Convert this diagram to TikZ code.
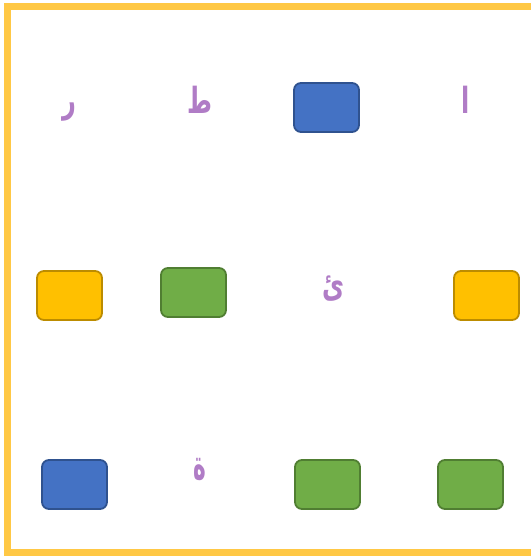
\documentclass[tikz,border=0pt]{standalone}
\usepackage{fontspec}
\newfontfamily\arabicfont[Script=Arabic]{DejaVu Sans}
\TeXXeTstate=1
\definecolor{frameY}{HTML}{FFC845}
\definecolor{bFill}{HTML}{4472C4}
\definecolor{bLine}{HTML}{2F528F}
\definecolor{yFill}{HTML}{FFC000}
\definecolor{yLine}{HTML}{BC8C00}
\definecolor{gFill}{HTML}{70AD47}
\definecolor{gLine}{HTML}{507E32}
\definecolor{letter}{HTML}{B07CC6}
\newcommand{\arl}[1]{\scalebox{1}[1.5]{\arabicfont\bfseries\fontsize{24}{28}\selectfont\beginR #1\endR}}
\begin{document}
\begin{tikzpicture}[x=1pt,y=-1pt,
  card/.style={rounded corners=7pt, line width=1.8pt, minimum width=65pt, minimum height=49pt, inner sep=0pt},
  bluecard/.style={card, fill=bFill, draw=bLine},
  yellowcard/.style={card, fill=yFill, draw=yLine},
  greencard/.style={card, fill=gFill, draw=gLine},
  ltr/.style={text=letter, inner sep=0pt}]
\useasboundingbox (0,0) rectangle (530,559);
\fill[white] (0,0) rectangle (530,559);
\draw[frameY, line width=7pt] (7.5,6.5) rectangle (545,552.5);
\node[bluecard] (b1) at (326.5,107.5) {};
\node[yellowcard] (y1) at (69.5,295.5) {};
\node[greencard] (g1) at (193.5,292.5) {};
\node[yellowcard] (y2) at (486.5,295.5) {};
\node[bluecard] (b2) at (74.5,484.5) {};
\node[greencard] (g2) at (327.5,484.5) {};
\node[greencard] (g3) at (470.5,484.5) {};
\node[ltr] (l1) at (69,112) {\arl{ر}};
\node[ltr] (l2) at (200,100) {\arl{ط}};
\node[ltr] (l3) at (466,100) {\arl{ا}};
\node[ltr] (l4) at (333,289) {\arl{ئ}};
\node[ltr] (l5) at (200,469) {\scalebox{0.9}[1.15]{\arl{ة}}};
\end{tikzpicture}
\end{document}
